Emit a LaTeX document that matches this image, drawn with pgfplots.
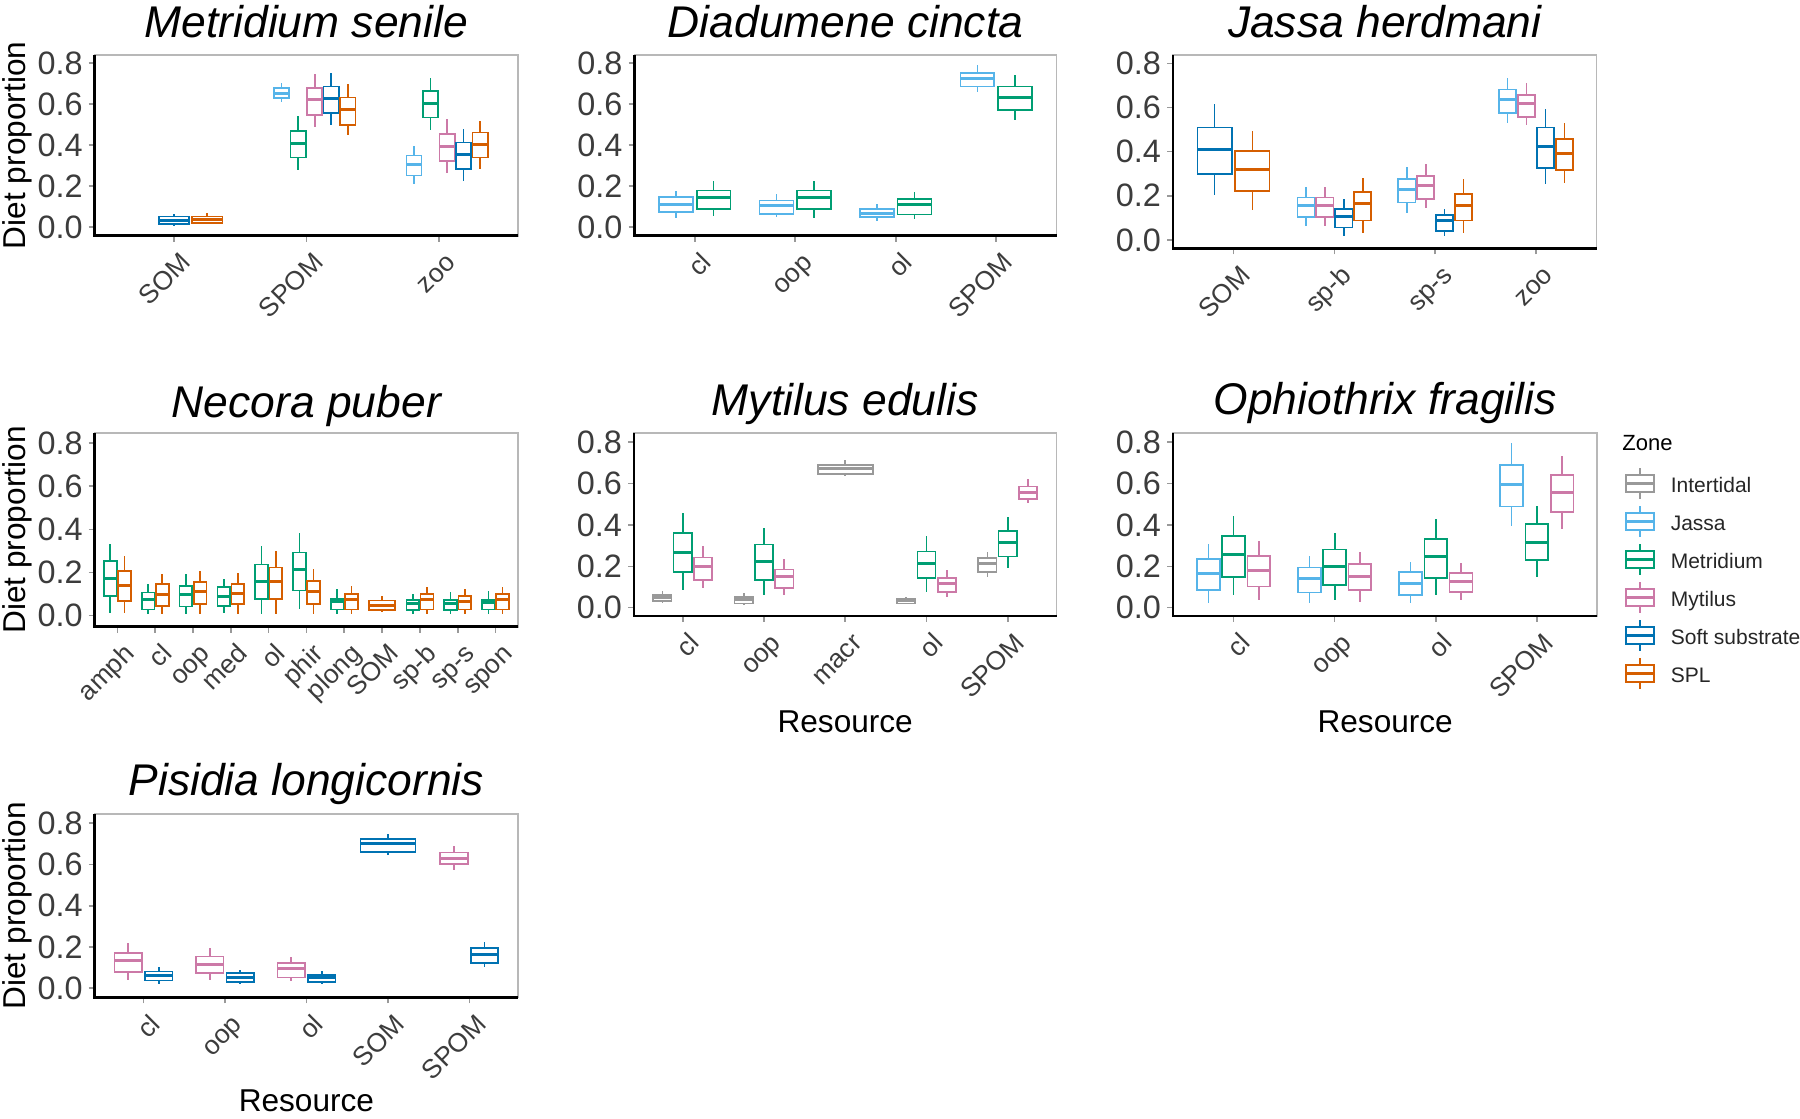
\documentclass[border=0pt]{standalone}
\usepackage{fontspec}
\setmainfont{Liberation Sans}
\usepackage{pgfplots}
\pgfplotsset{compat=1.18}
\usepgfplotslibrary{statistics}
\definecolor{cI}{HTML}{999999}
\definecolor{cJ}{HTML}{56B4E9}
\definecolor{cM}{HTML}{009E73}
\definecolor{cP}{HTML}{CC79A7}
\definecolor{cS}{HTML}{0072B2}
\definecolor{cO}{HTML}{D55E00}
\definecolor{tickc}{HTML}{3C3C3C}
\pgfplotsset{
  panel/.style={
    scale only axis, anchor=south west, clip=false,
    xmin=0.4,
    ytick={0,0.2,0.4,0.6,0.8}, yticklabels={0.0,0.2,0.4,0.6,0.8},
    minor tick num=0,
    tick pos=left, tick align=outside, major tick length=1.5pt,
    tick style={draw=black!40, line width=0.4pt},
    axis line style={draw=black!28, line width=0.45pt},
    yticklabel style={font=\fontsize{8.1}{9}\selectfont, text=tickc, anchor=east, inner sep=0pt, xshift=-1.3pt},
    xticklabel style={font=\fontsize{6.6}{7.5}\selectfont, text=tickc, rotate=45, anchor=north east, inner sep=0pt, text height=0.72em, text depth=0pt, xshift=-0.6pt, yshift=0.15pt},
    boxplot/draw direction=y,
    boxplot/every median/.style={line width=0.75pt},
    boxplot/whisker extend=0,
  },
}
\newcommand{\bx}[8]{\addplot[draw=#1, line width=0.42pt, solid, boxplot prepared={draw position=#2, box extend=#3, lower whisker=#4, lower quartile=#5, median=#6, upper quartile=#7, upper whisker=#8}] coordinates {};}
\newcommand{\axlines}{\draw[black, line width=0.65pt] (rel axis cs:0,1) -- (rel axis cs:0,0) -- (rel axis cs:1,0);}
\begin{document}
\begin{tikzpicture}
\path[use as bounding box] (0,0) rectangle (450pt,279.75pt);
% ---------- Metridium senile
\begin{axis}[panel, at={(23.675pt,220.825pt)}, width=105.875pt, height=45.1pt, xmax=3.6, ymin=-0.041, ymax=0.839, xtick={1,2,3}, xticklabels={SOM,SPOM,zoo}]
\bx{cS}{1.0}{0.23}{0.008}{0.015}{0.031}{0.052}{0.063}
\bx{cO}{1.25}{0.23}{0.019}{0.022}{0.039}{0.052}{0.068}
\bx{cJ}{1.8125}{0.115}{0.613}{0.629}{0.654}{0.678}{0.706}
\bx{cM}{1.9375}{0.115}{0.280}{0.340}{0.410}{0.470}{0.545}
\bx{cP}{2.0625}{0.115}{0.491}{0.548}{0.621}{0.678}{0.748}
\bx{cS}{2.1875}{0.115}{0.499}{0.556}{0.628}{0.686}{0.754}
\bx{cO}{2.3125}{0.115}{0.450}{0.499}{0.572}{0.633}{0.698}
\bx{cJ}{2.8125}{0.115}{0.210}{0.252}{0.304}{0.350}{0.398}
\bx{cM}{2.9375}{0.115}{0.475}{0.535}{0.602}{0.665}{0.727}
\bx{cP}{3.0625}{0.115}{0.267}{0.324}{0.393}{0.454}{0.528}
\bx{cS}{3.1875}{0.115}{0.226}{0.283}{0.353}{0.413}{0.480}
\bx{cO}{3.3125}{0.115}{0.283}{0.341}{0.402}{0.463}{0.520}
\axlines
\end{axis}
% ---------- Diadumene cincta
\begin{axis}[panel, at={(158.625pt,220.825pt)}, width=105.5pt, height=45.1pt, xmax=4.6, ymin=-0.041, ymax=0.839, xtick={1,2,3,4}, xticklabels={cl,oop,ol,SPOM}]
\bx{cJ}{0.8125}{0.3375}{0.044}{0.073}{0.112}{0.146}{0.179}
\bx{cM}{1.1875}{0.3375}{0.055}{0.088}{0.145}{0.179}{0.228}
\bx{cJ}{1.8125}{0.3375}{0.049}{0.065}{0.104}{0.130}{0.163}
\bx{cM}{2.1875}{0.3375}{0.044}{0.088}{0.145}{0.179}{0.228}
\bx{cJ}{2.8125}{0.3375}{0.033}{0.049}{0.068}{0.088}{0.114}
\bx{cM}{3.1875}{0.3375}{0.039}{0.063}{0.112}{0.138}{0.171}
\bx{cJ}{3.8125}{0.3375}{0.662}{0.686}{0.724}{0.751}{0.792}
\bx{cM}{4.1875}{0.3375}{0.524}{0.572}{0.634}{0.686}{0.743}
\axlines
\end{axis}
% ---------- Jassa herdmani
\begin{axis}[panel, at={(293.25pt,217.675pt)}, width=105.875pt, height=48.25pt, xmax=4.6, ymin=-0.0376, ymax=0.8365, xtick={1,2,3,4}, xticklabels={SOM,sp-b,sp-s,zoo}]
\bx{cS}{0.8125}{0.34}{0.204}{0.299}{0.408}{0.509}{0.614}
\bx{cO}{1.1875}{0.34}{0.136}{0.222}{0.317}{0.403}{0.495}
\bx{cJ}{1.71875}{0.17}{0.063}{0.103}{0.154}{0.193}{0.242}
\bx{cP}{1.90625}{0.17}{0.063}{0.103}{0.154}{0.193}{0.242}
\bx{cS}{2.09375}{0.17}{0.018}{0.056}{0.106}{0.140}{0.186}
\bx{cO}{2.28125}{0.17}{0.033}{0.088}{0.163}{0.216}{0.279}
\bx{cJ}{2.71875}{0.17}{0.124}{0.169}{0.229}{0.275}{0.329}
\bx{cP}{2.90625}{0.17}{0.146}{0.184}{0.245}{0.291}{0.344}
\bx{cS}{3.09375}{0.17}{0.018}{0.042}{0.088}{0.113}{0.139}
\bx{cO}{3.28125}{0.17}{0.033}{0.088}{0.154}{0.208}{0.276}
\bx{cJ}{3.71875}{0.17}{0.528}{0.574}{0.634}{0.682}{0.732}
\bx{cP}{3.90625}{0.17}{0.521}{0.558}{0.616}{0.658}{0.709}
\bx{cS}{4.09375}{0.17}{0.252}{0.325}{0.423}{0.509}{0.592}
\bx{cO}{4.28125}{0.17}{0.260}{0.317}{0.392}{0.457}{0.531}
\axlines
\end{axis}
% ---------- Necora puber
\begin{axis}[panel, at={(23.675pt,123.075pt)}, width=105.875pt, height=48.35pt, xmax=11.6, ymin=-0.051, ymax=0.846, xtick={1,...,11}, xticklabels={amph,cl,oop,med,ol,phir,plong,SOM,sp-b,sp-s,spon}]
\bx{cM}{0.8125}{0.3375}{0.014}{0.091}{0.173}{0.254}{0.333}
\bx{cO}{1.1875}{0.3375}{0.014}{0.068}{0.142}{0.207}{0.277}
\bx{cM}{1.8125}{0.3375}{0.006}{0.029}{0.077}{0.108}{0.147}
\bx{cO}{2.1875}{0.3375}{0.006}{0.045}{0.099}{0.147}{0.193}
\bx{cM}{2.8125}{0.3375}{0.006}{0.042}{0.099}{0.139}{0.193}
\bx{cO}{3.1875}{0.3375}{0.006}{0.053}{0.111}{0.155}{0.209}
\bx{cM}{3.8125}{0.3375}{0.014}{0.045}{0.091}{0.132}{0.169}
\bx{cO}{4.1875}{0.3375}{0.006}{0.053}{0.104}{0.147}{0.200}
\bx{cM}{4.8125}{0.3375}{0.006}{0.076}{0.158}{0.238}{0.323}
\bx{cO}{5.1875}{0.3375}{0.006}{0.076}{0.158}{0.223}{0.302}
\bx{cM}{5.8125}{0.3375}{0.029}{0.116}{0.212}{0.293}{0.385}
\bx{cO}{6.1875}{0.3375}{0.006}{0.053}{0.111}{0.161}{0.215}
\bx{cM}{6.8125}{0.3375}{0.006}{0.029}{0.065}{0.077}{0.124}
\bx{cO}{7.1875}{0.3375}{0.006}{0.029}{0.073}{0.101}{0.139}
\bx{cO}{8.0}{0.675}{0.015}{0.026}{0.046}{0.070}{0.091}
\bx{cM}{8.8125}{0.3375}{0.006}{0.026}{0.057}{0.073}{0.101}
\bx{cO}{9.1875}{0.3375}{0.006}{0.029}{0.076}{0.099}{0.132}
\bx{cM}{9.8125}{0.3375}{0.006}{0.026}{0.057}{0.073}{0.108}
\bx{cO}{10.1875}{0.3375}{0.006}{0.029}{0.068}{0.091}{0.124}
\bx{cM}{10.8125}{0.3375}{0.006}{0.029}{0.060}{0.073}{0.116}
\bx{cO}{11.1875}{0.3375}{0.006}{0.029}{0.076}{0.099}{0.132}
\axlines
\end{axis}
% ---------- Mytilus edulis
\begin{axis}[panel, at={(158.5pt,125.75pt)}, width=105.625pt, height=45.675pt, xmax=5.6, ymin=-0.040, ymax=0.843, xtick={1,...,5}, xticklabels={cl,oop,macr,ol,SPOM}]
\bx{cI}{0.75}{0.225}{0.024}{0.032}{0.050}{0.061}{0.081}
\bx{cM}{1.0}{0.225}{0.085}{0.174}{0.268}{0.360}{0.460}
\bx{cP}{1.25}{0.225}{0.094}{0.134}{0.198}{0.242}{0.298}
\bx{cI}{1.75}{0.225}{0.013}{0.021}{0.040}{0.053}{0.073}
\bx{cM}{2.0}{0.225}{0.061}{0.134}{0.223}{0.306}{0.387}
\bx{cP}{2.25}{0.225}{0.061}{0.094}{0.150}{0.185}{0.234}
\bx{cI}{3.0}{0.675}{0.637}{0.647}{0.671}{0.690}{0.715}
\bx{cI}{3.75}{0.225}{0.016}{0.021}{0.034}{0.045}{0.053}
\bx{cM}{4.0}{0.225}{0.077}{0.142}{0.215}{0.271}{0.347}
\bx{cP}{4.25}{0.225}{0.053}{0.077}{0.118}{0.145}{0.182}
\bx{cI}{4.75}{0.225}{0.150}{0.174}{0.215}{0.239}{0.271}
\bx{cM}{5.0}{0.225}{0.190}{0.247}{0.315}{0.371}{0.437}
\bx{cP}{5.25}{0.225}{0.505}{0.526}{0.556}{0.585}{0.621}
\axlines
\end{axis}
% ---------- Ophiothrix fragilis
\begin{axis}[panel, at={(293.25pt,125.75pt)}, width=106.1pt, height=45.825pt, xmax=4.6, ymin=-0.040, ymax=0.846, xtick={1,2,3,4}, xticklabels={cl,oop,ol,SPOM}]
\bx{cJ}{0.75}{0.225}{0.024}{0.085}{0.166}{0.234}{0.308}
\bx{cM}{1.0}{0.225}{0.061}{0.150}{0.255}{0.347}{0.444}
\bx{cP}{1.25}{0.225}{0.037}{0.102}{0.179}{0.250}{0.323}
\bx{cJ}{1.75}{0.225}{0.021}{0.073}{0.140}{0.194}{0.252}
\bx{cM}{2.0}{0.225}{0.037}{0.110}{0.198}{0.282}{0.363}
\bx{cP}{2.25}{0.225}{0.029}{0.085}{0.150}{0.211}{0.268}
\bx{cJ}{2.75}{0.225}{0.021}{0.061}{0.118}{0.171}{0.219}
\bx{cM}{3.0}{0.225}{0.061}{0.142}{0.247}{0.331}{0.427}
\bx{cP}{3.25}{0.225}{0.037}{0.077}{0.129}{0.169}{0.218}
\bx{cJ}{3.75}{0.225}{0.397}{0.489}{0.597}{0.690}{0.795}
\bx{cM}{4.0}{0.225}{0.150}{0.231}{0.316}{0.403}{0.492}
\bx{cP}{4.25}{0.225}{0.381}{0.461}{0.558}{0.642}{0.731}
\axlines
\end{axis}
% ---------- Pisidia longicornis
\begin{axis}[panel, at={(23.675pt,30.425pt)}, width=105.875pt, height=45.75pt, xmax=5.6, ymin=-0.0436, ymax=0.8436, xtick={1,...,5}, xticklabels={cl,oop,ol,SOM,SPOM}]
\bx{cP}{0.8125}{0.3375}{0.040}{0.078}{0.133}{0.170}{0.218}
\bx{cS}{1.1875}{0.3375}{0.021}{0.037}{0.060}{0.081}{0.105}
\bx{cP}{1.8125}{0.3375}{0.040}{0.073}{0.116}{0.154}{0.194}
\bx{cS}{2.1875}{0.3375}{0.021}{0.029}{0.053}{0.073}{0.089}
\bx{cP}{2.8125}{0.3375}{0.037}{0.053}{0.094}{0.121}{0.154}
\bx{cS}{3.1875}{0.3375}{0.021}{0.029}{0.053}{0.065}{0.084}
\bx{cS}{4.0}{0.675}{0.646}{0.662}{0.703}{0.724}{0.748}
\bx{cP}{4.8125}{0.3375}{0.574}{0.601}{0.630}{0.659}{0.690}
\bx{cS}{5.1875}{0.3375}{0.105}{0.124}{0.165}{0.194}{0.226}
\axlines
\end{axis}
% ---------- titles
\begin{scope}[every node/.style={anchor=base, font=\fontsize{11.1}{13}\selectfont\itshape}]
\node at (76.6pt,270.4pt) {Metridium senile};
\node at (211.4pt,270.4pt) {Diadumene cincta};
\node at (346.2pt,270.4pt) {Jassa herdmani};
\node at (76.6pt,175.4pt) {Necora puber};
\node at (211.3pt,175.75pt) {Mytilus edulis};
\node at (346.3pt,176pt) {Ophiothrix fragilis};
\node at (76.6pt,80.75pt) {Pisidia longicornis};
\end{scope}
% ---------- axis labels
\begin{scope}[every node/.style={anchor=base, inner sep=0pt, font=\fontsize{7.9}{9}\selectfont}]
\node[rotate=90] at (6.25pt,243.4pt) {Diet proportion};
\node[rotate=90] at (6.25pt,147.25pt) {Diet proportion};
\node[rotate=90] at (6.25pt,53.3pt) {Diet proportion};
\node at (211.3pt,96.5pt) {Resource};
\node at (346.3pt,96.5pt) {Resource};
\node at (76.6pt,1.9pt) {Resource};
\end{scope}
% ---------- legend
\node[anchor=base west, inner sep=0pt, font=\fontsize{5.5}{6.5}\selectfont] at (405.4pt,167.1pt) {Zone};
\foreach \c/\t/\yy in {cI/Intertidal/158.875, cJ/Jassa/149.375, cM/Metridium/139.875, cP/Mytilus/130.375, cS/Soft substrate/120.875, cO/SPL/111.375} {
  \draw[\c, line width=0.42pt] (406.5pt,\yy pt-2.075pt) rectangle (413.5pt,\yy pt+2.075pt);
  \draw[\c, line width=0.75pt] (406.5pt,\yy pt) -- (413.5pt,\yy pt);
  \draw[\c, line width=0.42pt] (410pt,\yy pt+2.075pt) -- (410pt,\yy pt+3.95pt);
  \draw[\c, line width=0.42pt] (410pt,\yy pt-2.075pt) -- (410pt,\yy pt-3.95pt);
  \node[anchor=base west, inner sep=0pt, font=\fontsize{5.25}{6}\selectfont, text=black!85] at (417.5pt,\yy pt-2.3pt) {\t};
}
\end{tikzpicture}
\end{document}
